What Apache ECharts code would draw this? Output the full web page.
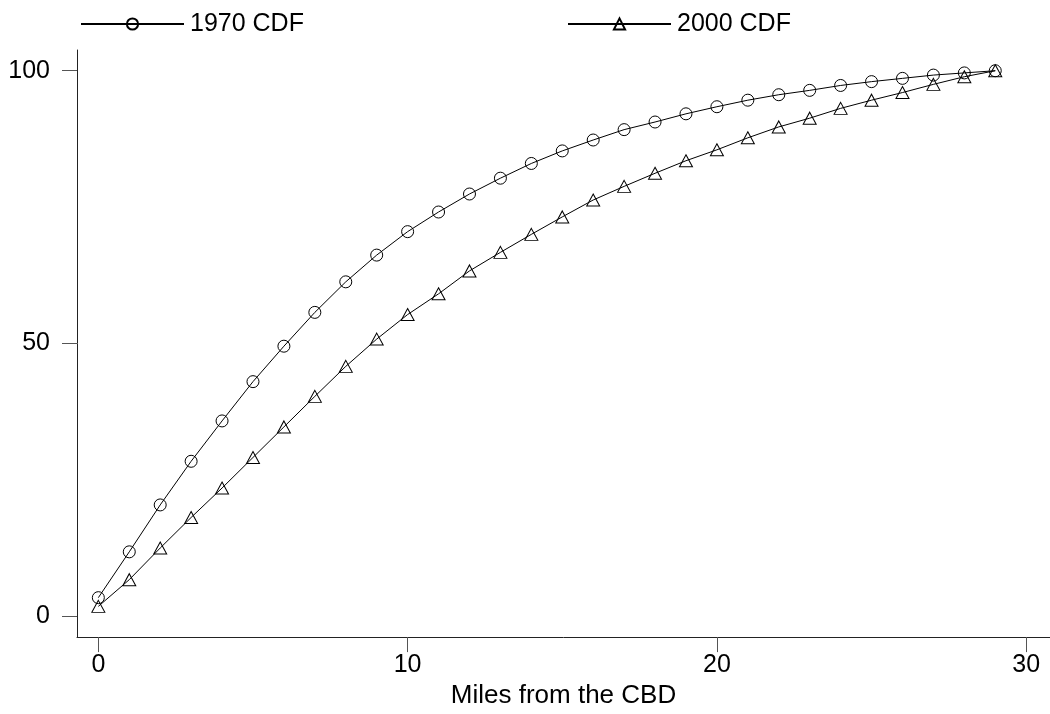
<!DOCTYPE html>
<html>
<head>
<meta charset="utf-8">
<script src="https://cdn.jsdelivr.net/npm/echarts@6/dist/echarts.min.js"></script>
<style>
html,body{margin:0;padding:0;background:#fff;}
#chart{width:1050px;height:714px;}
</style>
</head>
<body>
<div id="chart"></div>
<script>
// Data
const miles = [0,1,2,3,4,5,6,7,8,9,10,11,12,13,14,15,16,17,18,19,20,21,22,23,24,25,26,27,28,29];
const cdf1970 = [3.4,11.8,20.4,28.4,35.8,43.0,49.5,55.7,61.3,66.2,70.5,74.1,77.4,80.3,83.0,85.3,87.3,89.2,90.6,92.1,93.4,94.6,95.6,96.4,97.3,98.0,98.6,99.2,99.6,100];
const cdf2000 = [1.8,6.7,12.5,18.1,23.5,29.1,34.7,40.3,45.8,50.8,55.3,59.1,63.3,66.7,70.0,73.2,76.3,78.8,81.2,83.5,85.5,87.7,89.7,91.3,93.1,94.6,96.0,97.5,98.9,100];
const xTicks = [0,10,20,30];
const yTicks = [0,50,100];
const seriesNames = ['1970 CDF','2000 CDF'];
const xTitle = 'Miles from the CBD';

const FONT = '"Liberation Sans", Arial, Helvetica, sans-serif';
const pairs = (ys) => miles.map((m,i) => [m, ys[i]]);

const chart = echarts.init(document.getElementById('chart'), null, {renderer:'canvas'});
const legendBase = {
  orient: 'horizontal',
  top: 6,
  itemWidth: 103,
  itemHeight: 14,
  itemGap: 0,
  textStyle: {fontFamily: FONT, fontSize: 25, color: '#000', lineHeight: 26, padding: [0,0,0,1]},
  inactiveColor: '#000',
  selectedMode: false
};
chart.setOption({
  animation: false,
  backgroundColor: '#fff',
  legend: [
    Object.assign({}, legendBase, {left: 75, data: [seriesNames[0]]}),
    Object.assign({}, legendBase, {left: 562, data: [seriesNames[1]]})
  ],
  grid: {left: 77, right: 0, top: 50, bottom: 68.5, containLabel: false},
  xAxis: {
    type: 'value',
    min: -0.69, max: 30.77,
    name: xTitle,
    nameLocation: 'middle',
    nameGap: 36,
    nameTextStyle: {fontFamily: FONT, fontSize: 26, color: '#000'},
    axisLine: {show: true, onZero: false, lineStyle: {color: '#222', width: 1}},
    axisTick: {show: true, length: 15, customValues: xTicks, lineStyle: {color: '#555', width: 1}},
    axisLabel: {show: true, margin: 16, customValues: xTicks, fontFamily: FONT, fontSize: 25, color: '#000'},
    splitLine: {show: false}
  },
  yAxis: {
    type: 'value',
    min: -3.83, max: 103.8,
    axisLine: {show: true, onZero: false, lineStyle: {color: '#222', width: 1}},
    axisTick: {show: true, length: 15, customValues: yTicks, lineStyle: {color: '#555', width: 1}},
    axisLabel: {show: true, margin: 27, customValues: yTicks, fontFamily: FONT, fontSize: 25, color: '#000'},
    splitLine: {show: false}
  },
  series: [
    {
      name: seriesNames[0],
      type: 'line',
      data: pairs(cdf1970),
      symbol: 'circle',
      symbolSize: 12,
      showAllSymbol: true,
      lineStyle: {color: '#000', width: 1},
      itemStyle: {color: 'rgba(255,255,255,0)', borderColor: '#000', borderWidth: 1},
      emphasis: {disabled: true}
    },
    {
      name: seriesNames[1],
      type: 'line',
      data: pairs(cdf2000),
      symbol: 'triangle',
      symbolSize: [13, 12],
      showAllSymbol: true,
      lineStyle: {color: '#000', width: 1},
      itemStyle: {color: 'rgba(255,255,255,0)', borderColor: '#000', borderWidth: 1},
      emphasis: {disabled: true}
    }
  ]
});
</script>
</body>
</html>
